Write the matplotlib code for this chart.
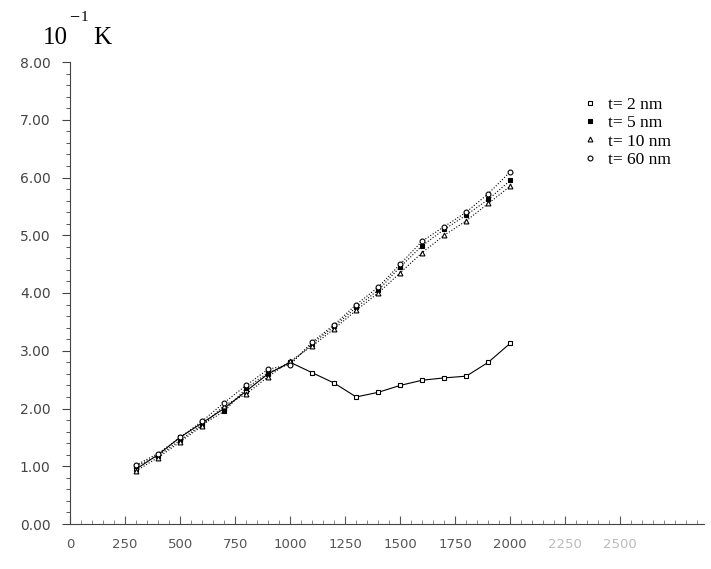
import numpy as np
import matplotlib

matplotlib.use("Agg")
import matplotlib.pyplot as plt
from matplotlib.ticker import MultipleLocator, FormatStrFormatter

# temperatura (x) y K en unidades de 1e-1 (y), por espesor de película
temp = [300, 400, 500, 600, 700, 800, 900, 1000, 1100, 1200,
        1300, 1400, 1500, 1600, 1700, 1800, 1900, 2000]
k_t2 = [0.95, 1.20, 1.50, 1.75, 2.00, 2.30, 2.60, 2.80, 2.62, 2.44,
        2.20, 2.28, 2.40, 2.49, 2.53, 2.56, 2.80, 3.13]
k_t5 = [1.00, 1.18, 1.45, 1.72, 1.95, 2.35, 2.62, 2.78, 3.12, 3.42,
        3.75, 4.05, 4.45, 4.82, 5.10, 5.35, 5.62, 5.95]
k_t10 = [0.92, 1.15, 1.42, 1.70, 2.05, 2.25, 2.55, 2.82, 3.08, 3.38,
         3.70, 4.00, 4.35, 4.70, 5.00, 5.25, 5.55, 5.85]
k_t60 = [1.02, 1.22, 1.50, 1.78, 2.10, 2.40, 2.68, 2.76, 3.15, 3.45,
         3.80, 4.10, 4.50, 4.90, 5.15, 5.40, 5.72, 6.10]
etiquetas = ["t= 2 nm", "t= 5 nm", "t= 10 nm", "t= 60 nm"]
x_ticks = [0, 250, 500, 750, 1000, 1250, 1500, 1750, 2000, 2250, 2500]

W, H = 711, 569
fig = plt.figure(figsize=(W / 100, H / 100), dpi=100)
ax = fig.add_axes([70 / W, 45 / H, 634 / W, 462 / H])

series = [(k_t2, "s", "white", "-"), (k_t5, "s", "black", ":"),
          (k_t10, "^", "white", ":"), (k_t60, "o", "white", ":")]
for (k, m, fc, ls), lab in zip(series, etiquetas):
    ax.plot(temp, k, ls=ls, lw=0.8, color="black", marker=m, ms=3.5,
            mfc=fc, mec="black", mew=0.8, label=lab)

ax.set_xlim(0, 2880)
ax.set_ylim(0, 8.0)
ax.set_xticks(x_ticks)
ax.yaxis.set_major_locator(MultipleLocator(1.0))
ax.yaxis.set_minor_locator(MultipleLocator(0.2))
ax.xaxis.set_minor_locator(MultipleLocator(50))
ax.yaxis.set_major_formatter(FormatStrFormatter("%.2f"))
for s in ("top", "right"):
    ax.spines[s].set_visible(False)
for s in ("left", "bottom"):
    ax.spines[s].set_linewidth(0.8)
    ax.spines[s].set_color("#444444")
ax.tick_params(axis="y", which="major", direction="out", length=6, width=0.8,
               labelsize=10, colors="#444444", pad=8)
ax.tick_params(axis="y", which="minor", direction="out", length=3, width=0.7,
               colors="#555555")
ax.tick_params(axis="x", which="major", direction="in", length=6, width=0.8,
               labelsize=9.5, colors="#555555", pad=10)
ax.tick_params(axis="x", which="minor", direction="in", length=3, width=0.6,
               colors="#777777")
for lbl in ax.get_xticklabels()[-2:]:
    lbl.set_color("#bbbbbb")

# encabezado del eje y: 10^-1 K
fig.text(43 / W, 1 - 44 / H, "10", family="Liberation Serif", fontsize=18)
fig.text(69 / W, 1 - 21 / H, "\u2212", family="Liberation Serif", fontsize=13)
fig.text(81 / W, 1 - 21 / H, "1", family="Liberation Serif", fontsize=11)
fig.text(93 / W, 1 - 44 / H, "K", family="Liberation Serif", fontsize=18)

leg = ax.legend(loc="upper left", bbox_to_anchor=(578 / W, 1 - 90 / H),
                bbox_transform=fig.transFigure, frameon=False, handlelength=0.6,
                handletextpad=0.7, labelspacing=0.12, borderaxespad=0,
                prop={"family": "Liberation Serif", "size": 12.5})
for h in leg.legend_handles:
    h.set_linestyle("none")

fig.savefig("out.png", dpi=100)
